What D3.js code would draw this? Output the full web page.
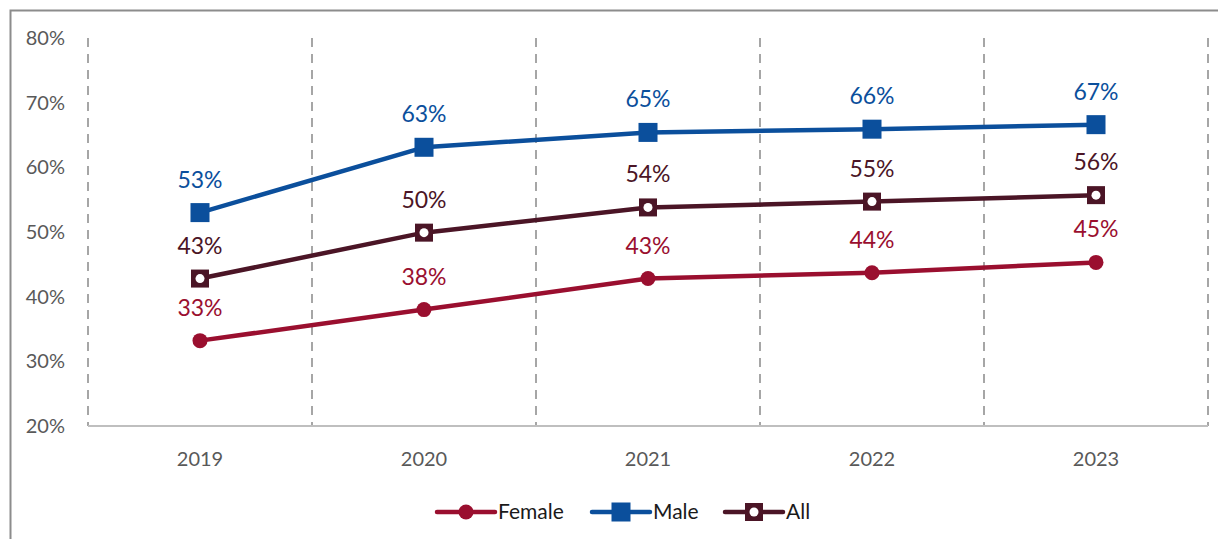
<!DOCTYPE html>
<html>
<head>
<meta charset="utf-8">
<script src="https://cdn.jsdelivr.net/npm/d3@7"></script>
<style>
  html, body { margin: 0; padding: 0; background: #fff; }
  svg { display: block; font-family: Lato, "Open Sans", sans-serif; }
</style>
</head>
<body>
<svg id="chart" width="1218" height="539"></svg>
<script>
// Share by year, per group (%)
const years = ["2019", "2020", "2021", "2022", "2023"];
const femaleValues = [33.2, 38.0, 42.8, 43.7, 45.3];
const maleValues = [53.0, 63.1, 65.4, 65.9, 66.6];
const allValues = [42.8, 49.9, 53.8, 54.7, 55.7];
const yTicks = [20, 30, 40, 50, 60, 70, 80];
const seriesNames = ["Female", "Male", "All"];

const colors = { Female: "#9a0f2f", Male: "#0b4f9c", All: "#4b1526" };

const series = [
  { name: "Female", values: femaleValues, marker: "circle" },
  { name: "Male", values: maleValues, marker: "square" },
  { name: "All", values: allValues, marker: "hollow" }
];

const svg = d3.select("#chart");

// outer frame
svg.append("rect")
  .attr("x", 10.5).attr("y", 10.5)
  .attr("width", 1230).attr("height", 560)
  .attr("fill", "none").attr("stroke", "#8c8c8c").attr("stroke-width", 2);

const x = d3.scaleBand().domain(years).range([88, 1208]).padding(0);
const y = d3.scaleLinear().domain([20, 80]).range([426, 38]);

const g = svg.append("g");

// dashed separators between year bands (incl. both outer edges)
const edges = years.map(d => x(d)).concat([x.range()[1]]);
g.selectAll("line.sep").data(edges).join("line")
  .attr("class", "sep")
  .attr("x1", d => d).attr("x2", d => d)
  .attr("y1", y(80)).attr("y2", y(20))
  .attr("stroke", "#a6a6a6").attr("stroke-width", 2)
  .attr("stroke-dasharray", "9,7");

// baseline
g.append("line")
  .attr("x1", x.range()[0]).attr("x2", x.range()[1])
  .attr("y1", y(20)).attr("y2", y(20))
  .attr("stroke", "#bfbfbf").attr("stroke-width", 2);

// y tick labels
g.selectAll("text.ytick").data(yTicks).join("text")
  .attr("class", "ytick")
  .attr("x", 65).attr("y", d => y(d))
  .attr("dy", "0.35em")
  .attr("text-anchor", "end")
  .attr("font-size", 20)
  .attr("fill", "#595959")
  .text(d => d + "%");

// x tick labels
g.selectAll("text.xtick").data(years).join("text")
  .attr("class", "xtick")
  .attr("x", d => x(d) + x.bandwidth() / 2)
  .attr("y", 459)
  .attr("dy", "0.35em")
  .attr("text-anchor", "middle")
  .attr("font-size", 20)
  .attr("fill", "#595959")
  .text(d => d);

const cx = d => x(d) + x.bandwidth() / 2;
const line = d3.line().x(d => cx(d.year)).y(d => y(d.value));
const fmt = v => Math.round(v) + "%";

function drawMarker(sel, type, color) {
  if (type === "circle") {
    sel.append("circle").attr("r", 7.5).attr("fill", color);
  } else if (type === "square") {
    sel.append("rect").attr("x", -9.5).attr("y", -9.5).attr("width", 19).attr("height", 19).attr("fill", color);
  } else {
    sel.append("rect").attr("x", -9).attr("y", -9).attr("width", 18).attr("height", 18).attr("fill", color);
    sel.append("circle").attr("r", 4.5).attr("fill", "#fff");
  }
}

// draw order: Female, All, Male
[series[0], series[2], series[1]].forEach(s => {
  const pts = years.map((yr, i) => ({ year: yr, value: s.values[i] }));
  const color = colors[s.name];
  g.append("path").datum(pts)
    .attr("d", line)
    .attr("fill", "none")
    .attr("stroke", color)
    .attr("stroke-width", 4.5)
    .attr("stroke-linejoin", "round");
  pts.forEach(p => {
    const m = g.append("g").attr("transform", `translate(${cx(p.year)},${y(p.value)})`);
    drawMarker(m, s.marker, color);
  });
  g.selectAll(null).data(pts).join("text")
    .attr("x", d => cx(d.year))
    .attr("y", d => y(d.value) - 25)
    .attr("text-anchor", "middle")
    .attr("font-size", 23)
    .attr("fill", color)
    .text(d => fmt(d.value));
});

// legend
const legendItems = [
  { name: seriesNames[0], marker: "circle", x0: 437 },
  { name: seriesNames[1], marker: "square", x0: 592 },
  { name: seriesNames[2], marker: "hollow", x0: 725 }
];
const ly = 512;
legendItems.forEach(it => {
  const color = colors[it.name];
  const lg = svg.append("g");
  lg.append("line")
    .attr("x1", it.x0).attr("x2", it.x0 + 58)
    .attr("y1", ly).attr("y2", ly)
    .attr("stroke", color).attr("stroke-width", 4.5).attr("stroke-linecap", "round");
  const m = lg.append("g").attr("transform", `translate(${it.x0 + 29},${ly})`);
  drawMarker(m, it.marker, color);
  lg.append("text")
    .attr("x", it.x0 + 61).attr("y", ly)
    .attr("dy", "0.35em")
    .attr("font-size", 21)
    .attr("fill", "#1a1a1a")
    .text(it.name);
});
</script>
</body>
</html>
